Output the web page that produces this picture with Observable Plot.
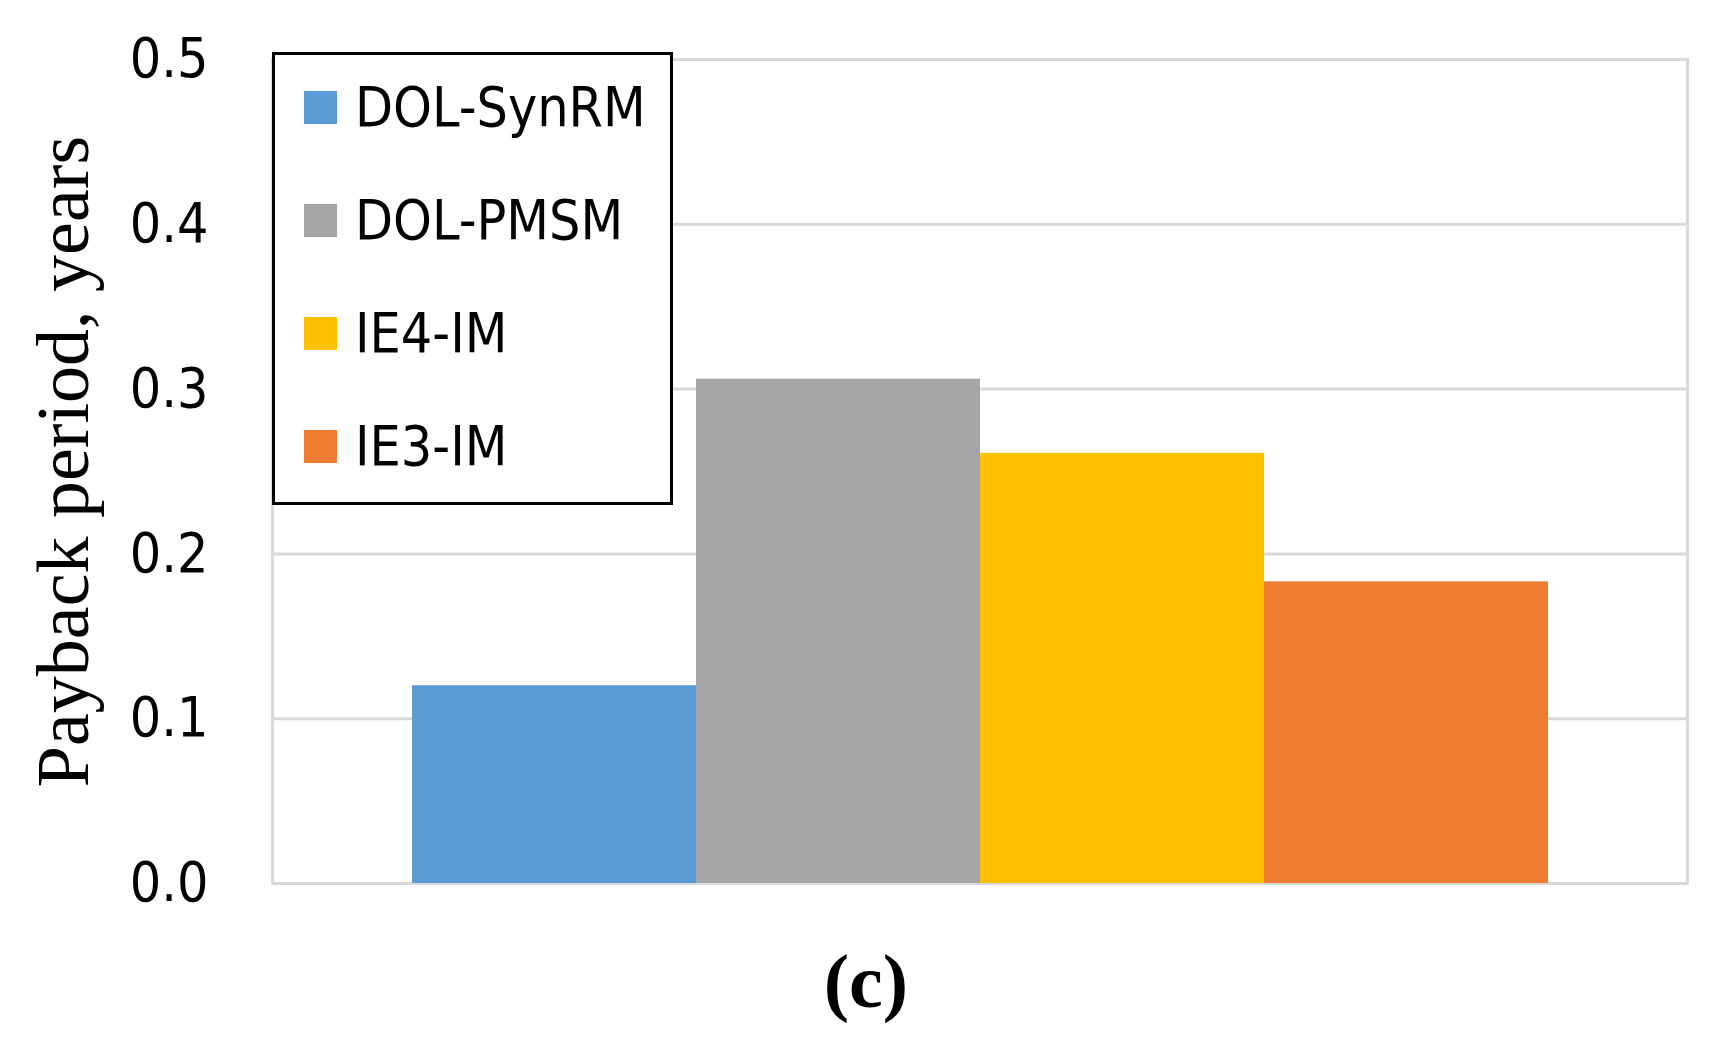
<!DOCTYPE html>
<html>
<head>
<meta charset="utf-8">
<script src="https://cdn.jsdelivr.net/npm/d3@7"></script>
<script src="https://cdn.jsdelivr.net/npm/@observablehq/plot@0.6"></script>
<style>
  html, body { margin: 0; padding: 0; background: #fff; }
  #wrap { position: relative; width: 1720px; height: 1043px; overflow: hidden; }
  #legend {
    position: absolute; left: 272px; top: 52px; width: 401px; height: 453px;
    box-sizing: border-box; border: 3px solid #000; background: #fff;
  }
  .item { position: relative; height: 113px; display: flex; align-items: center; }
  .sw { position: absolute; left: 29px; width: 33px; height: 33px; }
  .lab { position: absolute; left: 80px; font-family: "DejaVu Sans Condensed", "Liberation Sans Narrow", "DejaVu Sans", sans-serif; font-stretch: condensed; font-size: 55px; color: #000; line-height: 1; white-space: nowrap; }
  #caption {
    position: absolute; left: 0; top: 920px; width: 1720px; height: 123px;
    display: flex; align-items: center; justify-content: center; padding-left: 12px; box-sizing: border-box;
    font-family: "Liberation Serif", "Times New Roman", serif; font-weight: bold; font-size: 76px; color: #000;
  }
</style>
</head>
<body>
<div id="wrap">
  <div id="chart"></div>
  <div id="legend"><div id="items" style="margin-top:-4px"></div></div>
  <div id="caption"></div>
</div>
<script>
// ---- data ----
const series = ["DOL-SynRM", "DOL-PMSM", "IE4-IM", "IE3-IM"];
const values = [0.12, 0.306, 0.261, 0.183];
const colors = ["#5B9BD5", "#A5A5A5", "#FFC000", "#ED7D31"];
const yTicks = [0.0, 0.1, 0.2, 0.3, 0.4, 0.5];
const yLabel = "Payback period, years";
const captionText = "(c)";

const data = series.map((s, i) => ({series: s, value: values[i]}));

const sansFont = '"DejaVu Sans Condensed", "Liberation Sans Narrow", "DejaVu Sans", sans-serif';

const chart = Plot.plot({
  width: 1720,
  height: 920,
  marginLeft: 272,
  marginRight: 33,
  marginTop: 59,
  marginBottom: 37,
  style: {background: "#fff", color: "#000", overflow: "visible"},
  x: {domain: series, paddingInner: 0, paddingOuter: 0.487, axis: null},
  y: {domain: [0, 0.5], label: null},
  color: {domain: series, range: colors},
  marks: [
    Plot.gridY(yTicks, {stroke: "#d9d9d9", strokeOpacity: 1, strokeWidth: 3}),
    Plot.frame({stroke: "#d9d9d9", strokeWidth: 3}),
    Plot.barY(data, {x: "series", y: "value", fill: "series", inset: 0}),
    Plot.axisY(yTicks, {tickSize: 0, tickPadding: 64, tickFormat: d3.format(".1f"), fontSize: 55, fontFamily: sansFont, label: null}),
    Plot.text([yLabel], {frameAnchor: "left", textAnchor: "middle", lineAnchor: "middle", rotate: -90, dx: -208, dy: -10, fontSize: 74, fontFamily: '"Liberation Serif", "Times New Roman", serif', fill: "#000"})
  ]
});
document.getElementById("chart").appendChild(chart);

// legend
const items = d3.select("#items");
series.forEach((s, i) => {
  const it = items.append("div").attr("class", "item");
  it.append("div").attr("class", "sw").style("background", colors[i]);
  it.append("div").attr("class", "lab").text(s);
});
document.getElementById("caption").textContent = captionText;
</script>
</body>
</html>
